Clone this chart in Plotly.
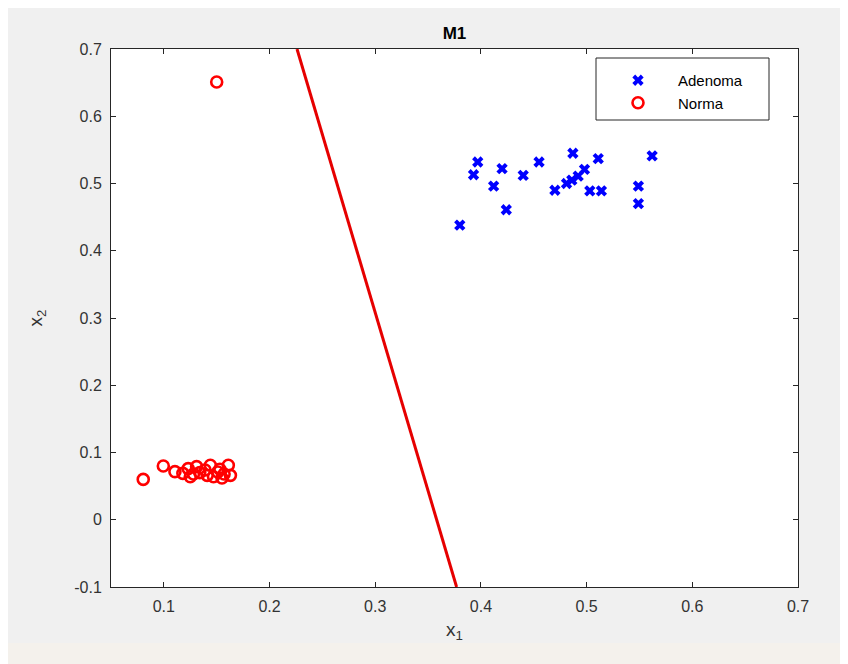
import plotly.graph_objects as go

# ---- data ----
adenoma_x1 = [0.380, 0.397, 0.393, 0.412, 0.420, 0.424, 0.440, 0.455, 0.470, 0.487,
              0.511, 0.498, 0.492, 0.486, 0.481, 0.503, 0.514, 0.549, 0.549, 0.562]
adenoma_x2 = [0.438, 0.532, 0.513, 0.496, 0.522, 0.461, 0.512, 0.532, 0.490, 0.545,
              0.537, 0.521, 0.511, 0.505, 0.500, 0.489, 0.489, 0.496, 0.470, 0.541]

norma_x1 = [0.150, 0.0805, 0.0995, 0.1105, 0.118, 0.123, 0.125, 0.131, 0.134, 0.139,
            0.144, 0.147, 0.151, 0.155, 0.161, 0.163, 0.157, 0.128, 0.141, 0.153]
norma_x2 = [0.651, 0.060, 0.080, 0.0715, 0.069, 0.076, 0.064, 0.079, 0.070, 0.074,
            0.081, 0.064, 0.071, 0.062, 0.081, 0.066, 0.068, 0.068, 0.066, 0.075]

boundary_x1 = [0.226, 0.377]
boundary_x2 = [0.7, -0.1]

x_ticks = [0.1, 0.2, 0.3, 0.4, 0.5, 0.6, 0.7]
x_ticklabels = ["0.1", "0.2", "0.3", "0.4", "0.5", "0.6", "0.7"]
y_ticks = [-0.1, 0.0, 0.1, 0.2, 0.3, 0.4, 0.5, 0.6, 0.7]
y_ticklabels = ["-0.1", "0", "0.1", "0.2", "0.3", "0.4", "0.5", "0.6", "0.7"]

FONT = "Liberation Sans, Arial, Helvetica, sans-serif"
TXT = "#333333"

fig = go.Figure()
fig.add_trace(go.Scatter(
    x=adenoma_x1, y=adenoma_x2, mode="markers", name="Adenoma",
    marker=dict(symbol="x", size=10, color="#0000ff", line=dict(width=0)),
))
fig.add_trace(go.Scatter(
    x=norma_x1, y=norma_x2, mode="markers", name="Norma",
    marker=dict(symbol="circle-open", size=11, color="#ff0000", line=dict(width=2.6, color="#ff0000")),
))
fig.add_trace(go.Scatter(
    x=boundary_x1, y=boundary_x2, mode="lines", showlegend=False,
    line=dict(color="#e60000", width=3),
))

# figure is drawn with an 8px page offset
W, H = 840, 656
L, T = 103, 41
pw, ph = 687, 538
R, B = W - L - pw, H - T - ph

def px2paper_x(px):
    return (px - L) / pw

def px2paper_y(py):
    return 1 - (py - T) / ph

shapes = [
    # lighter strip at bottom
    dict(type="rect", xref="paper", yref="paper", layer="below",
         x0=px2paper_x(0), x1=px2paper_x(W), y0=px2paper_y(H), y1=px2paper_y(635),
         fillcolor="#f4f1ec", line=dict(width=0)),
    # legend box
    dict(type="rect", xref="paper", yref="paper", layer="above",
         x0=px2paper_x(588), x1=px2paper_x(761), y0=px2paper_y(112), y1=px2paper_y(50),
         fillcolor="white", line=dict(width=1, color="#262626")),
]

axis_common = dict(
    showgrid=False, zeroline=False, showline=True, linecolor="#262626", linewidth=1,
    mirror="allticks", ticks="inside", ticklen=5, tickcolor="#262626",
    tickfont=dict(family=FONT, size=16, color=TXT),
)

fig.update_layout(
    width=W, height=H,
    margin=dict(l=L, r=R, t=T, b=B, pad=0),
    paper_bgcolor="#f0f0f0", plot_bgcolor="white",
    font=dict(family=FONT, color=TXT),
    title=dict(text="<b>M1</b>", x=(L + pw / 2) / W, xanchor="center",
               y=1 - 25 / H, yanchor="middle",
               font=dict(family=FONT, size=17, color="#000000")),
    xaxis=dict(range=[0.05, 0.7], tickvals=x_ticks, ticktext=x_ticklabels,
               ticklabelstandoff=5,
               title=dict(text="x<sub>1</sub>", font=dict(family=FONT, size=19, color=TXT), standoff=8),
               **axis_common),
    yaxis=dict(range=[-0.1, 0.7], tickvals=y_ticks, ticktext=y_ticklabels,
               ticklabelstandoff=5,
               title=dict(text="x<sub>2</sub>", font=dict(family=FONT, size=19, color=TXT), standoff=26),
               **axis_common),
    legend=dict(x=px2paper_x(590), y=px2paper_y(56), xanchor="left", yanchor="top",
                bgcolor="rgba(0,0,0,0)", borderwidth=0,
                font=dict(family=FONT, size=15, color="#000000"),
                itemwidth=70, traceorder="normal"),
    shapes=shapes,
)

fig.write_html("out.html")
